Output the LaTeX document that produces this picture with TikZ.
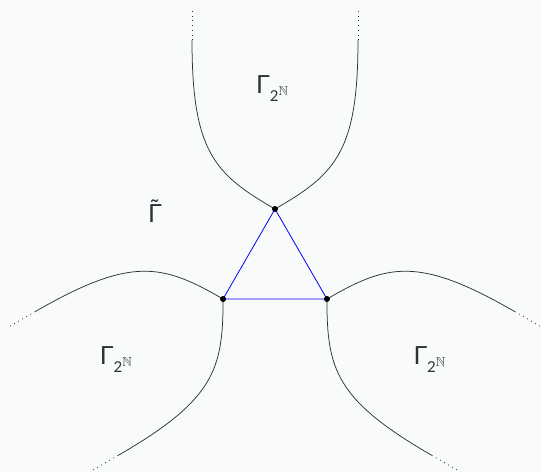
\documentclass[tikz,border=0pt]{standalone}
\usepackage{amssymb}
\usepackage{fontspec}
\setmainfont{Lato}
\definecolor{bg}{RGB}{249,250,250}
\definecolor{ink}{RGB}{42,52,56}
\newcommand\gtwo{Γ\raisebox{-8pt}{\fontsize{15}{15}\selectfont 2\raisebox{6pt}{\fontsize{13}{13}\selectfont$\mathbb{N}$}}}
\begin{document}
\begin{tikzpicture}[x=1pt,y=-1pt,
  curve/.style={ink, line width=0.75pt},
  tail/.style={ink, line width=0.8pt, dash pattern=on 0.8pt off 3.9pt},
  edge/.style={blue, line width=0.8pt},
  vtx/.style={circle, fill=black, inner sep=0pt, minimum size=6pt},
  lab/.style={ink, inner sep=0pt, anchor=base west, font=\fontsize{25}{25}\selectfont}]
\fill[bg] (0,0) rectangle (541,472);
\useasboundingbox (0,0) rectangle (541,472);
\coordinate (C) at (275,269);
\foreach \a/\n in {0/T,120/L,240/R}{
  \begin{scope}[rotate around={\a:(C)}]
    \coordinate (\n) at (275,209);
    \coordinate (\n a) at (192,40);
    \coordinate (\n a2) at (192,8);
    \coordinate (\n b) at (358,40);
    \coordinate (\n b2) at (358,8);
    \draw[curve] (\n) .. controls (214,174) and (192,151) .. (\n a);
    \draw[curve] (\n) .. controls (336,174) and (358,151) .. (\n b);
    \draw[tail] (\n a) -- (\n a2);
    \draw[tail] (\n b) -- (\n b2);
  \end{scope}
}
\draw[edge] (T) -- (L) -- (R) -- cycle;
\node[vtx] (t) at (T) {};
\node[vtx] (l) at (L) {};
\node[vtx] (r) at (R) {};
\node[lab] (g1) at (256,93) {\gtwo};
\node[lab] (g2) at (99.7,364.5) {\gtwo};
\node[lab] (g3) at (413.3,364.5) {\gtwo};
\node[lab] (g0) at (148,222) {\~{Γ}};
\end{tikzpicture}
\end{document}
